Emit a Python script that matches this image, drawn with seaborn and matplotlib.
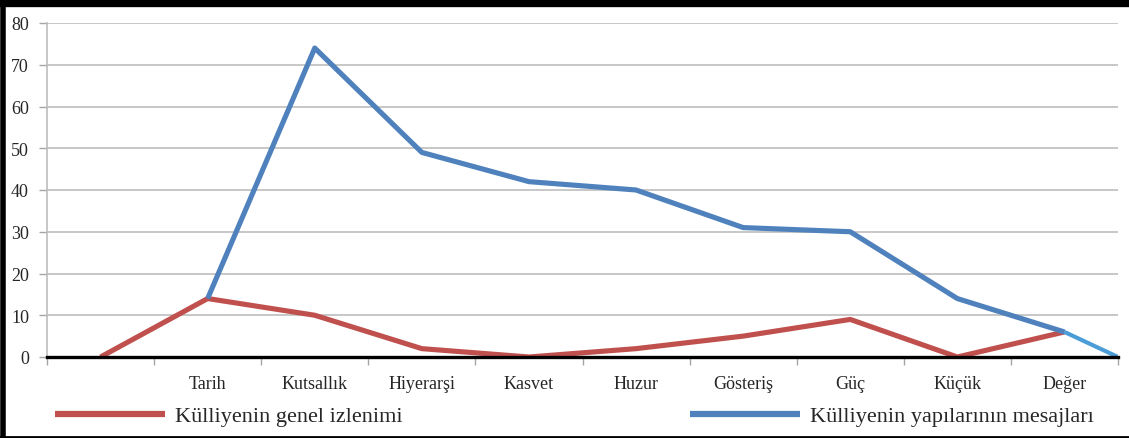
import matplotlib
matplotlib.use("Agg")
import matplotlib.pyplot as plt
import seaborn as sns
import pandas as pd
from matplotlib.lines import Line2D

categories = ["", "Tarih", "Kutsallık", "Hiyerarşi", "Kasvet", "Huzur",
              "Gösteriş", "Güç", "Küçük", "Değer"]
genel = [0, 14, 10, 2, 0, 2, 5, 9, 0, 6]
mesaj = [None, 14, 74, 49, 42, 40, 31, 30, 14, 6]
tail_x = [9, 9.5]
tail_y = [6, 0]
yticks = [0, 10, 20, 30, 40, 50, 60, 70, 80]
label_red = "Külliyenin genel izlenimi"
label_blue = "Külliyenin yapılarının mesajları"

sns.set_theme(style="white")
plt.rcParams['font.family'] = ['Liberation Serif', 'DejaVu Serif']

RED = "#C0504D"
BLUE = "#4F81BD"
LBLUE = "#4A9DD6"

fig = plt.figure(figsize=(11.29, 4.39), dpi=100)
ax = fig.add_axes([47/1129, 81/439, (1118-47)/1129, (358-24)/439])

pos = list(range(len(categories)))
df_r = pd.DataFrame({"x": pos, "y": genel})
df_b = pd.DataFrame({"x": pos, "y": mesaj}).dropna()
df_t = pd.DataFrame({"x": tail_x, "y": tail_y})

lw = 3.7
sns.lineplot(data=df_r, x="x", y="y", ax=ax, color=RED, linewidth=lw,
             solid_joinstyle="round", solid_capstyle="butt", zorder=3)
sns.lineplot(data=df_b, x="x", y="y", ax=ax, color=BLUE, linewidth=lw,
             solid_joinstyle="round", solid_capstyle="butt", zorder=4)
sns.lineplot(data=df_t, x="x", y="y", ax=ax, color=LBLUE, linewidth=lw * 0.8,
             solid_capstyle="butt", zorder=5)

ax.set_xlim(-0.5, len(categories) - 0.5)
ax.set_ylim(0, 80)
ax.set_xlabel("")
ax.set_ylabel("")

ax.set_yticks(yticks)
ax.set_yticklabels([str(v) for v in yticks], fontsize=13)
ax.yaxis.grid(True, color="#BDBDBD", linewidth=1.2)
ax.set_axisbelow(True)

ax.set_xticks([i - 0.5 for i in range(len(categories) + 1)])
ax.set_xticklabels([])
ax.set_xticks(pos, minor=True)
ax.set_xticklabels(categories, minor=True, fontsize=13)
ax.tick_params(axis="x", which="major", length=6, width=1, color="#A6A6A6",
               direction="out", bottom=True)
ax.tick_params(axis="x", which="minor", length=0, pad=13)
ax.tick_params(axis="y", length=6, width=1, color="#A6A6A6", direction="out",
               left=True, pad=7)

for s in ["top", "right"]:
    ax.spines[s].set_visible(False)
ax.spines["left"].set_color("#BDBDBD")
ax.spines["left"].set_linewidth(1.2)
ax.spines["bottom"].set_color("black")
ax.spines["bottom"].set_linewidth(2.4)
ax.spines["bottom"].set_zorder(6)

h_r = Line2D([], [], color=RED, linewidth=4.5, solid_capstyle="butt")
h_b = Line2D([], [], color=BLUE, linewidth=4.5, solid_capstyle="butt")
fs = 16
hl = 110 / (fs * 100 / 72)
tp = 10 / (fs * 100 / 72)
fig.legend([h_r], [label_red], loc="center left",
           bbox_to_anchor=(55/1129, 1 - 417/439), frameon=False,
           fontsize=fs, handlelength=hl, handletextpad=tp,
           borderpad=0, borderaxespad=0)
fig.legend([h_b], [label_blue], loc="center left",
           bbox_to_anchor=(690/1129, 1 - 417/439), frameon=False,
           fontsize=fs, handlelength=hl, handletextpad=tp,
           borderpad=0, borderaxespad=0)

# outer frame
fig.add_artist(Line2D([0, 1], [1 - 4/439, 1 - 4/439], color="black",
                      linewidth=6, transform=fig.transFigure))
fig.add_artist(Line2D([2.5/1129, 2.5/1129], [0, 1], color="black",
                      linewidth=4, transform=fig.transFigure))
fig.add_artist(Line2D([0, 1], [1/439, 1/439], color="black",
                      linewidth=2, transform=fig.transFigure))

fig.savefig("out.png", dpi=100)
